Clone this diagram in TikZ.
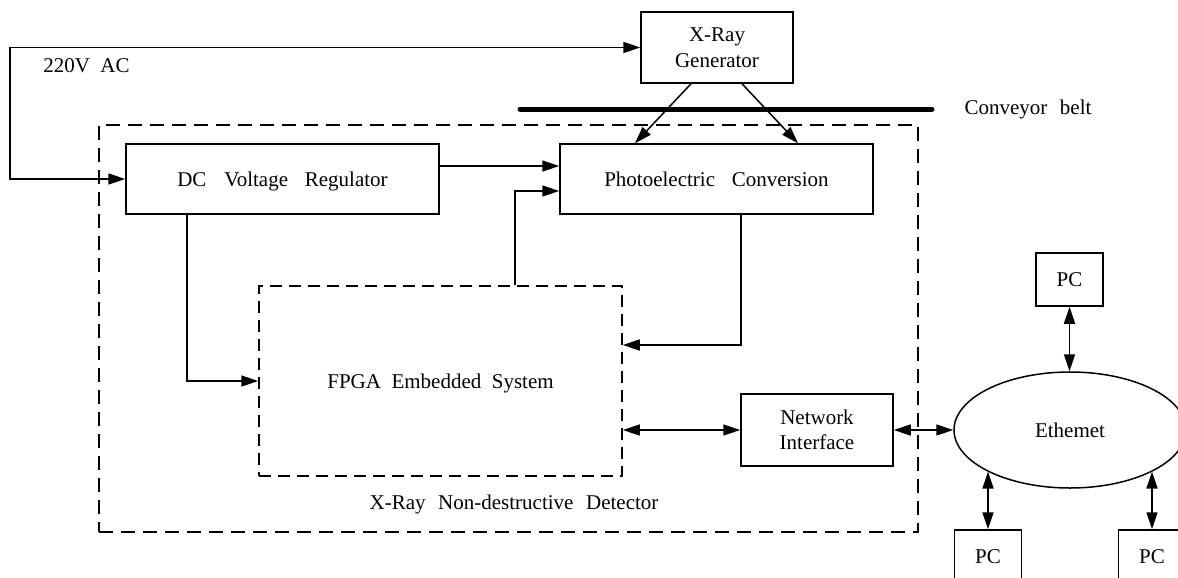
\documentclass[tikz,border=0pt]{standalone}
\usepackage{fontspec}
\setmainfont{Liberation Serif}
\usetikzlibrary{arrows.meta,shapes.geometric}
\begin{document}
\begin{tikzpicture}[x=1pt,y=-1pt,
  font=\fontsize{21}{25.5}\selectfont,
  box/.style={draw, line width=1.5pt, inner sep=0pt, text height=14pt, text depth=0pt},
  mbox/.style={draw, line width=1.5pt, inner sep=0pt, align=center},
  fpgabox/.style={draw, line width=1.5pt, dash pattern=on 12pt off 7pt, inner sep=0pt, text height=14pt, text depth=0pt},
  detbox/.style={draw, line width=1.5pt, dash pattern=on 14pt off 8pt, inner sep=0pt},
  lbl/.style={anchor=base, inner sep=0pt},
  tip/.tip={Triangle[length=17pt,width=11pt]},
  conn/.style={line width=1.5pt, -tip},
  bconn/.style={line width=1.5pt, tip-tip},
]
\useasboundingbox (0,0) rectangle (1178,578);

% detector frame
\node[detbox, minimum width=819pt, minimum height=407pt] (det) at (508.5,328.5) {};
\node[lbl] (detlbl) at (514,509) {X-Ray\hspace{0.6em}Non-destructive\hspace{0.6em}Detector};

% blocks
\node[mbox, minimum width=152pt, minimum height=71pt] (xray) at (717,47.5) {X-Ray\\Generator};
\node[box, minimum width=313pt, minimum height=70pt] (dc) at (282.5,179) {DC\hspace{0.85em}Voltage\hspace{0.8em}Regulator};
\node[box, minimum width=313pt, minimum height=70pt] (photo) at (716.5,179) {Photoelectric\hspace{0.8em}Conversion};
\node[fpgabox, minimum width=363pt, minimum height=190pt] (fpga) at (440.5,381) {FPGA\hspace{0.5em}Embedded\hspace{0.5em}System};
\node[mbox, minimum width=152pt, minimum height=72pt] (ni) at (817,430) {Network\\Interface};
\node[ellipse, draw, line width=1.5pt, inner sep=0pt, minimum width=232pt, minimum height=116pt, text height=14pt, text depth=0pt] (eth) at (1070,430) {Ethemet};
\node[box, minimum width=67pt, minimum height=53pt] (pct) at (1069.5,279.5) {PC};
\node[box, minimum width=67pt, minimum height=53pt] (pcl) at (988,556.5) {PC};
\node[box, minimum width=67pt, minimum height=53pt] (pcr) at (1152,556.5) {PC};

% labels
\node[lbl] (ac) at (86.5,73) {220V\hspace{0.5em}AC};
\node[lbl] (beltlbl) at (1028,114) {Conveyor\hspace{0.6em}belt};

% conveyor belt
\coordinate (beltL) at (520,109);
\coordinate (beltR) at (932,109);
\draw[line width=5pt, line cap=round] (beltL) -- (beltR);

% AC supply
\coordinate (acc) at (10,47.5);
\draw[conn] (acc) -- (xray.west);
\draw[conn] (acc) |- (dc.west);

% x-ray beams
\draw[conn] ([xshift=-26pt]xray.south) -- ([xshift=-81.5pt]photo.north);
\draw[conn] ([xshift=25pt]xray.south) -- ([xshift=81.5pt]photo.north);

% internal connections
\coordinate (y166) at (0,166);
\coordinate (y191) at (0,191);
\coordinate (x515) at (515,0);
\coordinate (x187) at (187,0);
\coordinate (x741) at (741,0);
\coordinate (y345) at (0,345);
\draw[conn] (dc.east |- y166) -- (photo.west |- y166);
\draw[conn] (fpga.north -| x515) |- (photo.west |- y191);
\draw[conn] (dc.south -| x187) |- (fpga.west);
\draw[conn] (photo.south -| x741) |- (fpga.east |- y345);
\draw[bconn] (fpga.east |- ni.west) -- (ni.west);
\draw[bconn] (ni.east) -- (eth.west);

% network
\draw[bconn] (pct.south) -- (pct.south |- eth.north);
\draw[bconn] (pcl.north) -- (pcl.north |- eth.south west);
\draw[bconn] (pcr.north) -- (pcr.north |- eth.south east);
\end{tikzpicture}
\end{document}
